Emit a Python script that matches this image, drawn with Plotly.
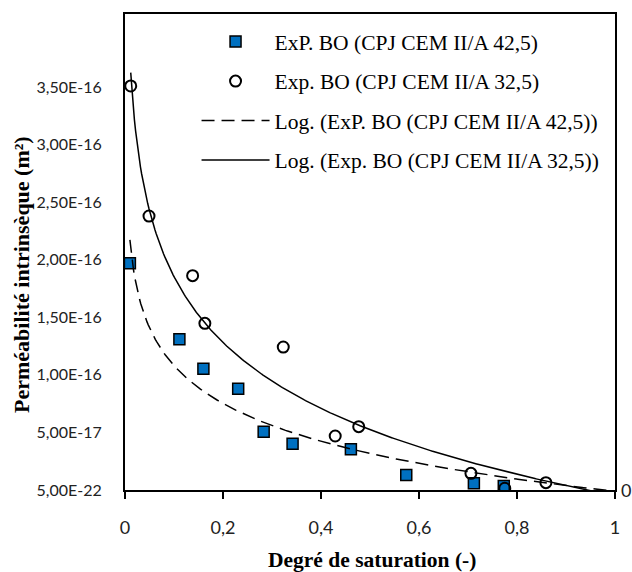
import numpy as np
import plotly.graph_objects as go

# ---- data ----
s1_name = "ExP. BO (CPJ CEM II/A 42,5)"
s1_x = [0.010, 0.111, 0.160, 0.231, 0.283, 0.342, 0.461, 0.574, 0.712, 0.773]
s1_y = [1.97e-16, 1.31e-16, 1.054e-16, 0.88e-16, 0.507e-16, 0.402e-16,
        0.353e-16, 0.130e-16, 0.058e-16, 0.035e-16]

s2_name = "Exp. BO (CPJ CEM II/A 32,5)"
s2_x = [0.0117, 0.049, 0.138, 0.163, 0.323, 0.429, 0.477, 0.706, 0.775, 0.859]
s2_y = [3.51e-16, 2.38e-16, 1.862e-16, 1.448e-16, 1.242e-16, 0.469e-16,
        0.55e-16, 0.145e-16, 0.015e-16, 0.064e-16]

x_ticks = [0, 0.2, 0.4, 0.6, 0.8, 1.0]
x_ticklabels = ["0", "0,2", "0,4", "0,6", "0,8", "1"]
y_ticks = [5e-22, 5e-17, 1e-16, 1.5e-16, 2e-16, 2.5e-16, 3e-16, 3.5e-16]
y_ticklabels = ["5,00E-22", "5,00E-17", "1,00E-16", "1,50E-16", "2,00E-16",
                "2,50E-16", "3,00E-16", "3,50E-16"]
y_max = 4.135e-16
trend_x_end = 1.0


def log_trend(xs, ys):
    a, b = np.polyfit(np.log(xs), ys, 1)
    xt = np.linspace(min(xs), trend_x_end, 400)
    return xt, a * np.log(xt) + b


t1x, t1y = log_trend(s1_x, s1_y)
t2x, t2y = log_trend(s2_x, s2_y)

BLUE = "#0070C0"
SERIF = "Liberation Serif"
SANS = "Lato"

fig = go.Figure()
fig.add_trace(go.Scatter(
    x=s1_x, y=s1_y, mode="markers", name=s1_name, legendgroup="a",
    marker=dict(symbol="square", size=11, color=BLUE,
                line=dict(color="black", width=1.5))))
fig.add_trace(go.Scatter(
    x=s2_x, y=s2_y, mode="markers", name=s2_name, legendgroup="b",
    marker=dict(symbol="circle-open", size=11, color="black",
                line=dict(color="black", width=2))))
fig.add_trace(go.Scatter(
    x=t1x, y=t1y, mode="lines", name="Log. (" + s1_name + ")", legendgroup="c",
    line=dict(color="black", width=1.5, dash="13px,7px")))
fig.add_trace(go.Scatter(
    x=t2x, y=t2y, mode="lines", name="Log. (" + s2_name + ")", legendgroup="d",
    line=dict(color="black", width=1.5)))

fig.update_layout(
    width=632, height=572,
    margin=dict(l=125, r=17, t=14, b=82),
    paper_bgcolor="white", plot_bgcolor="white",
    showlegend=True,
    legend=dict(x=0.146, y=0.985, xanchor="left", yanchor="top",
                font=dict(family=SERIF, size=21.5, color="black"),
                bgcolor="rgba(0,0,0,0)", borderwidth=0,
                itemwidth=68, tracegroupgap=8.5),
    xaxis=dict(range=[0, 1], tickvals=x_ticks, ticktext=x_ticklabels,
               showgrid=False, zeroline=False, showline=True,
               linecolor="black", linewidth=2, mirror=True, automargin=False,
               ticks="outside", ticklen=7, tickwidth=1.5, tickcolor="black",
               ticklabelstandoff=13,
               tickfont=dict(family=SANS, size=18, color="#222")),
    yaxis=dict(range=[5e-22, y_max], tickvals=y_ticks, ticktext=y_ticklabels,
               showgrid=False, zeroline=False, showline=True,
               linecolor="black", linewidth=2, mirror=True, automargin=False,
               ticks="", ticklabelstandoff=18,
               tickfont=dict(family=SANS, size=16, color="#222")),
    annotations=[
        dict(x=1, y=5e-22, xref="paper", yref="y", text="0",
             showarrow=False, xanchor="left", xshift=4,
             font=dict(family=SANS, size=18, color="#222")),
        dict(x=-0.21, y=0.452, xref="paper", yref="paper",
             text="<b>Perméabilité intrinsèque (m²)</b>", textangle=-90,
             showarrow=False, xanchor="center", yanchor="middle",
             font=dict(family=SERIF, size=22, color="black")),
        dict(x=0.504, y=-0.147, xref="paper", yref="paper",
             text="<b>Degré de saturation (-)</b>",
             showarrow=False, xanchor="center", yanchor="middle",
             font=dict(family=SERIF, size=21.5, color="black")),
    ],
)

fig.write_html("out.html")
